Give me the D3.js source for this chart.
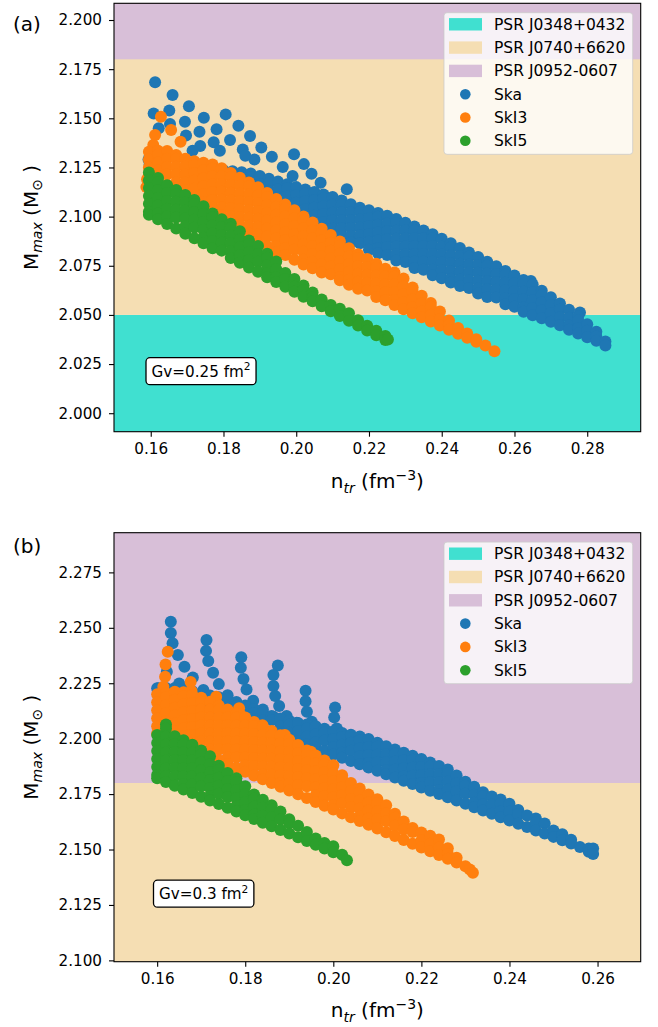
<!DOCTYPE html>
<html><head><meta charset="utf-8">
<script src="https://cdn.jsdelivr.net/npm/d3@7"></script>
<style>body{margin:0;background:#fff} text{font-family:"DejaVu Sans",sans-serif}</style>
</head><body><svg id="c" width="658" height="1027"></svg>
<script>
// ---------- data ----------
const bandNames = ["PSR J0348+0432", "PSR J0740+6620", "PSR J0952-0607"];
const bandLo = [1.97, 2.05, 2.18];
const bandHi = [2.05, 2.24, 2.52];
const bandColors = ["#40e0d0", "#f5deb3", "#d8bfd8"];
const seriesNames = ["Ska", "SkI3", "SkI5"];
const seriesColors = ["#1f77b4", "#ff7f0e", "#2ca02c"];
const xTicksA = [0.16, 0.18, 0.20, 0.22, 0.24, 0.26, 0.28];
const yTicksA = [2.000, 2.025, 2.050, 2.075, 2.100, 2.125, 2.150, 2.175, 2.200];
const xTicksB = [0.16, 0.18, 0.20, 0.22, 0.24, 0.26];
const yTicksB = [2.100, 2.125, 2.150, 2.175, 2.200, 2.225, 2.250, 2.275];
const gvA = 0.25, gvB = 0.3;

// each entry: [n_tr, M_max, M_max, ...] (points sharing one n_tr)
const skaA = [
[0.1612,2.1683],[0.1660,2.1618],[0.1608,2.1525],[0.1651,2.1540],[0.1705,2.1561],[0.1622,2.1449],[0.1653,2.1471],
[0.1694,2.1482],[0.1746,2.1503],[0.1806,2.1520],[0.1697,2.1413],[0.1734,2.1432],[0.1781,2.1444],[0.1841,2.1462],
[0.1873,2.1410],[0.1818,2.1390],[0.1773,2.1378],[0.1736,2.1359],[0.1904,2.1352],[0.1853,2.1342],[0.1933,2.1305],
[0.1885,2.1291],[0.1994,2.1317],[0.1963,2.1252],[0.2021,2.1267],[0.1990,2.1206],[0.2042,2.1218],[0.2067,2.1172],
[0.2139,2.1139],[0.2780,2.0512],[0.2645,2.0673],[0.1594,2.1290],[0.1597,2.1265],
[0.1715,2.1335],[0.1790,2.1335],[0.1860,2.1310],
[0.1775,2.1241],[0.1800,2.1236],[0.1825,2.1231,2.1205],[0.1850,2.1226,2.1186],[0.1875,2.1219,2.1199,2.1159],
[0.1900,2.1206,2.1166,2.1129],[0.1925,2.1192,2.1172,2.1132,2.1100],[0.1950,2.1178,2.1138,2.1098,2.1070],
[0.1975,2.1164,2.1144,2.1104,2.1064,2.1041],[0.2000,2.1150,2.1110,2.1070,2.1030,2.1011],
[0.2025,2.1138,2.1118,2.1078,2.1038,2.0998],[0.2050,2.1125,2.1085,2.1045,2.1005,2.0965,2.0948],
[0.2075,2.1113,2.1093,2.1053,2.1013,2.0973,2.0933],[0.2100,2.1100,2.1060,2.1020,2.0980,2.0940,2.0907],
[0.2125,2.1082,2.1062,2.1022,2.0982,2.0942,2.0902],[0.2150,2.1063,2.1023,2.0983,2.0943,2.0903,2.0870],
[0.2175,2.1045,2.1025,2.0985,2.0945,2.0905,2.0865],[0.2200,2.1032,2.0992,2.0952,2.0912,2.0872,2.0832],
[0.2225,2.1019,2.0999,2.0959,2.0919,2.0879,2.0839,2.0814],[0.2250,2.1005,2.0965,2.0925,2.0885,2.0845,2.0805],
[0.2275,2.0988,2.0968,2.0928,2.0888,2.0848,2.0808,2.0777],[0.2300,2.0969,2.0929,2.0889,2.0849,2.0809,2.0769],
[0.2325,2.0950,2.0930,2.0890,2.0850,2.0810,2.0770,2.0739],[0.2350,2.0930,2.0890,2.0850,2.0810,2.0770,2.0730],
[0.2375,2.0910,2.0890,2.0850,2.0810,2.0770,2.0730,2.0702],[0.2400,2.0887,2.0847,2.0807,2.0767,2.0727,2.0687],
[0.2425,2.0864,2.0844,2.0804,2.0764,2.0724,2.0684,2.0665],[0.2450,2.0840,2.0800,2.0760,2.0720,2.0680,2.0647],
[0.2475,2.0817,2.0797,2.0757,2.0717,2.0677,2.0637],[0.2500,2.0794,2.0754,2.0714,2.0674,2.0634,2.0609],
[0.2525,2.0771,2.0751,2.0711,2.0671,2.0631,2.0591],[0.2550,2.0748,2.0708,2.0668,2.0628,2.0588],
[0.2575,2.0724,2.0704,2.0664,2.0624,2.0584,2.0554],[0.2600,2.0701,2.0661,2.0621,2.0581,2.0541],
[0.2625,2.0678,2.0658,2.0618,2.0578,2.0538,2.0516],[0.2650,2.0655,2.0615,2.0575,2.0535,2.0498],
[0.2675,2.0623,2.0603,2.0563,2.0523,2.0483],[0.2700,2.0590,2.0550,2.0510,2.0465],
[0.2725,2.0558,2.0528,2.0488,2.0448],[0.2750,2.0526,2.0486,2.0446,2.0424],
[0.2775,2.0492,2.0472,2.0432,2.0405],[0.2800,2.0453,2.0420,2.0387],[0.2825,2.0414,2.0390,2.0368],
[0.2850,2.0365,2.0345]
];
const ski3A = [
[0.1628,2.1508],[0.1656,2.1440],[0.1682,2.1381],[0.1612,2.1415],[0.1607,2.1364],[0.1588,2.1150],[0.1590,2.1190],
[0.1595,2.1330,2.1290,2.1250,2.1210],[0.1620,2.1335,2.1315,2.1275,2.1235,2.1195],
[0.1645,2.1334,2.1294,2.1254,2.1214,2.1160],[0.1670,2.1314,2.1294,2.1254,2.1214,2.1174,2.1134],
[0.1695,2.1294,2.1254,2.1214,2.1174,2.1134,2.1095],[0.1720,2.1282,2.1262,2.1222,2.1182,2.1142,2.1102,2.1069],
[0.1745,2.1274,2.1234,2.1194,2.1154,2.1114,2.1074,2.1038],
[0.1770,2.1265,2.1245,2.1205,2.1165,2.1125,2.1085,2.1045,2.1005],
[0.1795,2.1246,2.1206,2.1166,2.1126,2.1086,2.1046,2.1006,2.0972],
[0.1820,2.1222,2.1202,2.1162,2.1122,2.1082,2.1042,2.1002,2.0962],
[0.1845,2.1198,2.1158,2.1118,2.1078,2.1038,2.0998,2.0958,2.0918],
[0.1870,2.1174,2.1154,2.1114,2.1074,2.1034,2.0994,2.0954,2.0914,2.0874],
[0.1895,2.1149,2.1109,2.1069,2.1029,2.0989,2.0949,2.0909,2.0869],
[0.1920,2.1120,2.1100,2.1060,2.1020,2.0980,2.0940,2.0900,2.0850],
[0.1945,2.1090,2.1050,2.1010,2.0970,2.0930,2.0890,2.0850,2.0820],
[0.1970,2.1061,2.1041,2.1001,2.0961,2.0921,2.0881,2.0841,2.0805],
[0.1995,2.1032,2.0992,2.0952,2.0912,2.0872,2.0832,2.0780],
[0.2020,2.1001,2.0981,2.0941,2.0901,2.0861,2.0821,2.0781,2.0757],
[0.2045,2.0970,2.0930,2.0890,2.0850,2.0810,2.0770,2.0737],
[0.2070,2.0938,2.0918,2.0878,2.0838,2.0798,2.0758,2.0716],
[0.2095,2.0907,2.0867,2.0827,2.0787,2.0747,2.0707],
[0.2120,2.0873,2.0853,2.0813,2.0773,2.0733,2.0693,2.0676],
[0.2145,2.0839,2.0799,2.0759,2.0719,2.0679,2.0654],
[0.2170,2.0809,2.0789,2.0749,2.0709,2.0669,2.0633],
[0.2195,2.0784,2.0744,2.0704,2.0664,2.0624],
[0.2220,2.0760,2.0740,2.0700,2.0660,2.0620,2.0591],
[0.2245,2.0735,2.0695,2.0655,2.0615,2.0575],
[0.2270,2.0716,2.0696,2.0656,2.0616,2.0576,2.0550],
[0.2295,2.0685,2.0645,2.0605,2.0565,2.0529],
[0.2320,2.0639,2.0619,2.0579,2.0539,2.0508],
[0.2345,2.0598,2.0558,2.0518,2.0488],[0.2370,2.0561,2.0541,2.0501,2.0467],
[0.2395,2.0518,2.0478,2.0446],[0.2420,2.0471,2.0451,2.0425],[0.2445,2.0434,2.0404],
[0.2470,2.0405,2.0384],[0.2495,2.0376,2.0363],[0.2520,2.0344],[0.2545,2.0315]
];
const ski5A = [
[0.1595,2.1225,2.1185,2.1145,2.1105,2.1065,2.1025,2.1010],
[0.1620,2.1196,2.1176,2.1136,2.1096,2.1056,2.1016,2.0986],
[0.1645,2.1160,2.1120,2.1080,2.1040,2.1000,2.0962],
[0.1670,2.1135,2.1115,2.1075,2.1035,2.0995,2.0940],
[0.1695,2.1110,2.1070,2.1030,2.0990,2.0950,2.0913],
[0.1720,2.1084,2.1064,2.1024,2.0984,2.0944,2.0890],
[0.1745,2.1053,2.1013,2.0973,2.0933,2.0893,2.0864],
[0.1770,2.1016,2.0996,2.0956,2.0916,2.0876,2.0839],
[0.1795,2.0987,2.0947,2.0907,2.0867,2.0827],
[0.1820,2.0964,2.0944,2.0904,2.0864,2.0824,2.0790],
[0.1845,2.0925,2.0885,2.0845,2.0805,2.0765],
[0.1870,2.0879,2.0859,2.0819,2.0779,2.0741],
[0.1895,2.0850,2.0810,2.0770,2.0720],
[0.1920,2.0811,2.0791,2.0751,2.0711,2.0692],
[0.1945,2.0772,2.0732,2.0692,2.0667],
[0.1970,2.0713,2.0683,2.0643],[0.1995,2.0683,2.0643,2.0618],[0.2020,2.0650,2.0625,2.0593],
[0.2045,2.0614,2.0590,2.0569],[0.2070,2.0578,2.0544],[0.2095,2.0551,2.0519],[0.2120,2.0532,2.0495],
[0.2145,2.0508,2.0470],[0.2170,2.0473,2.0446],[0.2195,2.0445,2.0421],[0.2220,2.0419,2.0397],
[0.2245,2.0393,2.0372],[0.2252,2.0375]
];
const skaB = [
[0.1631,2.2527],[0.1631,2.2477],[0.1635,2.2430],[0.1647,2.2377],[0.1662,2.2324],[0.1681,2.2276],[0.1705,2.2219],
[0.1622,2.2302],[0.1603,2.2227],[0.1650,2.2249],
[0.1712,2.2445],[0.1711,2.2396],[0.1716,2.2350],[0.1727,2.2297],[0.1740,2.2246],[0.1760,2.2196],[0.1781,2.2151],
[0.1791,2.2367],[0.1790,2.2320],[0.1796,2.2269],[0.1803,2.2222],[0.1818,2.2171],[0.1840,2.2132],[0.1864,2.2099],
[0.1874,2.2330],[0.1864,2.2287],[0.1864,2.2238],[0.1868,2.2192],[0.1877,2.2147],[0.1894,2.2102],[0.1917,2.2072],
[0.1937,2.2216],[0.1937,2.2169],[0.1940,2.2121],[0.1951,2.2076],
[0.2004,2.2141],[0.2002,2.2096],[0.2008,2.2046],
[0.160,2.2227],[0.162,2.2228,2.2212],[0.164,2.2229,2.2198],[0.166,2.2225,2.2207,2.2183],[0.168,2.2214,2.2168],
[0.170,2.2203,2.2185,2.2153],[0.172,2.2195,2.2159,2.2138],[0.174,2.2187,2.2169,2.2123],[0.176,2.2180,2.2144,2.2108],
[0.178,2.2165,2.2147,2.2111,2.2093],[0.180,2.2150,2.2114,2.2078],[0.182,2.2134,2.2116,2.2080,2.2063],
[0.184,2.2118,2.2082,2.2048],[0.186,2.2102,2.2084,2.2034],[0.188,2.2091,2.2055,2.2019],
[0.190,2.2081,2.2063,2.2027,2.2004],[0.192,2.2071,2.2035,2.1989],[0.194,2.2064,2.2046,2.2010,2.1974],
[0.196,2.2056,2.2020,2.1984,2.1959],[0.198,2.2045,2.2027,2.1991,2.1944],[0.200,2.2034,2.1998,2.1962,2.1929],
[0.202,2.2026,2.2008,2.1972,2.1936,2.1914],[0.204,2.2018,2.1982,2.1946,2.1899],
[0.206,2.2010,2.1992,2.1956,2.1920,2.1885],[0.208,2.1998,2.1962,2.1926,2.1890,2.1870],
[0.210,2.1982,2.1964,2.1928,2.1892,2.1855],[0.212,2.1966,2.1930,2.1894,2.1858,2.1840],
[0.214,2.1951,2.1933,2.1897,2.1861,2.1825],[0.216,2.1937,2.1901,2.1865,2.1829,2.1810],
[0.218,2.1923,2.1905,2.1869,2.1833,2.1795],[0.220,2.1908,2.1872,2.1836,2.1800,2.1780],
[0.222,2.1893,2.1875,2.1839,2.1803,2.1765],[0.224,2.1877,2.1841,2.1805,2.1769,2.1750],
[0.226,2.1861,2.1843,2.1807,2.1771,2.1736],[0.228,2.1834,2.1798,2.1762,2.1721],
[0.230,2.1806,2.1788,2.1752,2.1706],[0.232,2.1783,2.1747,2.1711,2.1691],[0.234,2.1758,2.1740,2.1704,2.1676],
[0.236,2.1739,2.1703,2.1661],[0.238,2.1726,2.1708,2.1672,2.1646],[0.240,2.1706,2.1670,2.1631],
[0.242,2.1678,2.1660,2.1616],[0.244,2.1653,2.1601],[0.246,2.1640,2.1622,2.1586],[0.248,2.1617,2.1572],
[0.250,2.1586,2.1557],[0.252,2.1569,2.1542],[0.254,2.1544,2.1527],[0.256,2.1511],[0.258,2.1505,2.1490],
[0.259,2.1505,2.1480]
];
const ski3B = [
[0.1624,2.2392],[0.1619,2.2335],[0.1618,2.2279],[0.1614,2.2234],[0.1676,2.2256],[0.1678,2.2215],[0.1734,2.2189],
[0.1735,2.2160],[0.1786,2.2137],[0.1788,2.2110],[0.1839,2.2061],[0.1890,2.2016],[0.1949,2.1941],
[0.160,2.2200,2.2164,2.2128,2.2092,2.2056,2.2023],
[0.162,2.2206,2.2188,2.2152,2.2116,2.2080,2.2044,2.2024],
[0.164,2.2212,2.2176,2.2140,2.2104,2.2068,2.2032,2.1988],
[0.166,2.2209,2.2191,2.2155,2.2119,2.2083,2.2047,2.2011,2.1971],
[0.168,2.2197,2.2161,2.2125,2.2089,2.2053,2.2017,2.1981,2.1954],
[0.170,2.2185,2.2167,2.2131,2.2095,2.2059,2.2023,2.1987,2.1937],
[0.172,2.2167,2.2131,2.2095,2.2059,2.2023,2.1987,2.1951,2.1920],
[0.174,2.2149,2.2131,2.2095,2.2059,2.2023,2.1987,2.1951,2.1903],
[0.176,2.2131,2.2095,2.2059,2.2023,2.1987,2.1951,2.1915,2.1886],
[0.178,2.2113,2.2095,2.2059,2.2023,2.1987,2.1951,2.1915,2.1868],
[0.180,2.2095,2.2059,2.2023,2.1987,2.1951,2.1915,2.1879,2.1851],
[0.182,2.2075,2.2057,2.2021,2.1985,2.1949,2.1913,2.1877,2.1834],
[0.184,2.2055,2.2019,2.1983,2.1947,2.1911,2.1875,2.1839,2.1817],
[0.186,2.2035,2.2017,2.1981,2.1945,2.1909,2.1873,2.1837,2.1800],
[0.188,2.2015,2.1979,2.1943,2.1907,2.1871,2.1835,2.1800,2.1783],
[0.190,2.1995,2.1977,2.1941,2.1905,2.1869,2.1833,2.1797,2.1766],
[0.192,2.1971,2.1935,2.1899,2.1863,2.1827,2.1791,2.1749],
[0.194,2.1947,2.1929,2.1893,2.1857,2.1821,2.1785,2.1732],
[0.196,2.1924,2.1888,2.1852,2.1816,2.1780,2.1744,2.1714],
[0.198,2.1902,2.1884,2.1848,2.1812,2.1776,2.1740,2.1697],
[0.200,2.1880,2.1844,2.1808,2.1772,2.1736,2.1700,2.1680],
[0.202,2.1835,2.1817,2.1781,2.1745,2.1709,2.1663],
[0.204,2.1800,2.1764,2.1728,2.1692,2.1646],
[0.206,2.1775,2.1757,2.1721,2.1685,2.1649,2.1629],
[0.208,2.1748,2.1712,2.1676,2.1640,2.1612],
[0.210,2.1727,2.1709,2.1673,2.1637,2.1595],
[0.212,2.1700,2.1664,2.1628,2.1578],[0.214,2.1661,2.1643,2.1607,2.1561],
[0.216,2.1626,2.1590,2.1543],[0.218,2.1597,2.1579,2.1526],[0.220,2.1577,2.1541,2.1509],
[0.222,2.1562,2.1526,2.1492],[0.224,2.1545,2.1509,2.1475],[0.226,2.1506,2.1480,2.1458],
[0.228,2.1463,2.1441],[0.230,2.1425],[0.231,2.1410],[0.2317,2.1395]
];
const ski5B = [
[0.1600,2.2016,2.1980,2.1944,2.1908,2.1872,2.1836,2.1821],
[0.1620,2.2064,2.2046,2.2010,2.1974,2.1938,2.1902,2.1866,2.1830,2.1805],
[0.1640,2.2011,2.1975,2.1939,2.1903,2.1867,2.1831,2.1788],
[0.1660,2.1993,2.1975,2.1939,2.1903,2.1867,2.1831,2.1795,2.1771],
[0.1680,2.1973,2.1937,2.1901,2.1865,2.1829,2.1793,2.1755],
[0.1700,2.1947,2.1929,2.1893,2.1857,2.1821,2.1785,2.1738],
[0.1720,2.1921,2.1885,2.1849,2.1813,2.1777,2.1741,2.1721],
[0.1740,2.1878,2.1860,2.1824,2.1788,2.1752,2.1705],
[0.1760,2.1845,2.1809,2.1773,2.1737,2.1688],
[0.1780,2.1822,2.1804,2.1768,2.1732,2.1696,2.1671],
[0.1800,2.1785,2.1749,2.1713,2.1677,2.1655],
[0.1820,2.1748,2.1730,2.1694,2.1658,2.1638],
[0.1840,2.1724,2.1688,2.1652,2.1621],[0.1860,2.1700,2.1682,2.1646,2.1605],
[0.1880,2.1671,2.1635,2.1588],[0.1900,2.1636,2.1618,2.1572],[0.1920,2.1607,2.1555],
[0.1940,2.1579,2.1538],[0.1960,2.1550,2.1522],[0.1980,2.1529,2.1505],[0.2000,2.1515,2.1488],
[0.2020,2.1476],[0.2031,2.1452]
];

// ---------- drawing ----------
const svg = d3.select("#c");
const FONT = '"DejaVu Sans", sans-serif';
const R_DOT = 6.0, R_LEG = 5.3;

function flat(cols) {
  const out = [];
  cols.forEach(c => { for (let i = 1; i < c.length; i++) out.push([c[0], c[i]]); });
  return out;
}

function mathText(sel, parts, fs) {
  let cur = 0;
  parts.forEach(p => {
    const target = p.sub ? fs * 0.24 : (p.sup ? -fs * 0.42 : 0);
    const ts = sel.append("tspan").text(p.t).attr("dy", (target - cur).toFixed(2));
    if (p.sub || p.sup) ts.attr("font-size", (fs * 0.7).toFixed(2));
    if (p.it) ts.attr("font-style", "italic");
    cur = target;
  });
}

const panels = [
  {id: "a", label: "(a)", L: 114, R: 640.7, T: 3.3, B: 431.7, xDom: [0.1499, 0.2947], yDom: [1.9906, 2.2085],
   xt: xTicksA, yt: yTicksA, data: [skaA, ski3A, ski5A], gv: gvA, gvX: 151.5, gvBase: 376.7, gvBoxY: 357.7,
   labBase: 31, xlabBase: 488},
  {id: "b", label: "(b)", L: 114, R: 640.7, T: 532.7, B: 961.7, xDom: [0.1502, 0.2698], yDom: [2.0994, 2.2929],
   xt: xTicksB, yt: yTicksB, data: [skaB, ski3B, ski5B], gv: gvB, gvX: 159, gvBase: 899.2, gvBoxY: 880.2,
   labBase: 552.5, xlabBase: 1017}
];

panels.forEach(p => {
  const x = d3.scaleLinear().domain(p.xDom).range([p.L, p.R]);
  const y = d3.scaleLinear().domain(p.yDom).range([p.B, p.T]);
  const g = svg.append("g");
  const clipId = "clip" + p.id;
  svg.append("clipPath").attr("id", clipId).append("rect")
    .attr("x", p.L).attr("y", p.T).attr("width", p.R - p.L).attr("height", p.B - p.T);
  const plot = g.append("g").attr("clip-path", `url(#${clipId})`);

  plot.selectAll("rect.band").data(bandNames).join("rect").attr("class", "band")
    .attr("x", p.L).attr("width", p.R - p.L)
    .attr("y", (d, i) => y(bandHi[i])).attr("height", (d, i) => y(bandLo[i]) - y(bandHi[i]))
    .attr("fill", (d, i) => bandColors[i]);

  p.data.forEach((cols, si) => {
    plot.append("g").selectAll("circle").data(flat(cols)).join("circle")
      .attr("cx", d => x(d[0])).attr("cy", d => y(d[1])).attr("r", R_DOT)
      .attr("fill", seriesColors[si]);
  });

  const ax = g.append("g").attr("transform", `translate(0,${p.B})`)
    .call(d3.axisBottom(x).tickValues(p.xt).tickFormat(d3.format(".2f")).tickSize(5).tickPadding(7));
  const ay = g.append("g").attr("transform", `translate(${p.L},0)`)
    .call(d3.axisLeft(y).tickValues(p.yt).tickFormat(d3.format(".3f")).tickSize(5).tickPadding(7));
  [ax, ay].forEach(a => {
    a.select(".domain").remove();
    a.selectAll("text").attr("font-size", 15.2).attr("font-family", FONT).attr("fill", "#000");
    a.selectAll("line").attr("stroke", "#000").attr("stroke-width", 1.1);
  });

  g.append("rect").attr("x", p.L).attr("y", p.T).attr("width", p.R - p.L).attr("height", p.B - p.T)
    .attr("fill", "none").attr("stroke", "#000").attr("stroke-width", 1.1);

  const xl = g.append("text").attr("x", (p.L + p.R) / 2).attr("y", p.xlabBase)
    .attr("text-anchor", "middle").attr("font-size", 20);
  mathText(xl, [{t: "n"}, {t: "tr", sub: true, it: true}, {t: " (fm"}, {t: "\u22123", sup: true}, {t: ")"}], 20);
  const yl = g.append("text").attr("transform", `translate(37.5,${(p.T + p.B) / 2}) rotate(-90)`)
    .attr("text-anchor", "middle").attr("font-size", 20);
  mathText(yl, [{t: "M"}, {t: "max", sub: true, it: true}, {t: " (M"}, {t: "\u2299", sub: true}, {t: " )"}], 20);

  g.append("text").attr("x", 13).attr("y", p.labBase).attr("font-size", 20).text(p.label);

  const gvG = g.append("g");
  const gvRect = gvG.append("rect");
  const gt = gvG.append("text").attr("x", p.gvX).attr("y", p.gvBase).attr("font-size", 15.2);
  mathText(gt, [{t: `Gv=${p.gv} fm`}, {t: "2", sup: true}], 15.2);
  const bb = gt.node().getBBox();
  gvRect.attr("x", bb.x - 5.5).attr("y", p.gvBoxY).attr("width", bb.width + 11).attr("height", 27)
    .attr("rx", 4).attr("fill", "#fff").attr("stroke", "#000").attr("stroke-width", 1.3);

  const lw = 188.7, lh = 141.6;
  const lx = p.R - 8 - lw, ly = p.T + 9.4;
  const lg = g.append("g");
  lg.append("rect").attr("x", lx).attr("y", ly).attr("width", lw).attr("height", lh).attr("rx", 3)
    .attr("fill", "#fff").attr("fill-opacity", 0.8).attr("stroke", "#cccccc").attr("stroke-opacity", 0.8)
    .attr("stroke-width", 1);
  const items = bandNames.map((n, i) => ({n, c: bandColors[i], t: "patch"}))
    .concat(seriesNames.map((n, i) => ({n, c: seriesColors[i], t: "dot"})));
  items.forEach((it, i) => {
    const cy = ly + 11.6 + i * 23.3;
    if (it.t === "patch") {
      lg.append("rect").attr("x", lx + 5).attr("y", cy - 6.2).attr("width", 33).attr("height", 12.4).attr("fill", it.c);
    } else {
      lg.append("circle").attr("cx", lx + 21.3).attr("cy", cy).attr("r", R_LEG).attr("fill", it.c);
    }
    lg.append("text").attr("x", lx + 50).attr("y", cy + 5.4).attr("font-size", 15.5).text(it.n);
  });
});
</script></body></html>
